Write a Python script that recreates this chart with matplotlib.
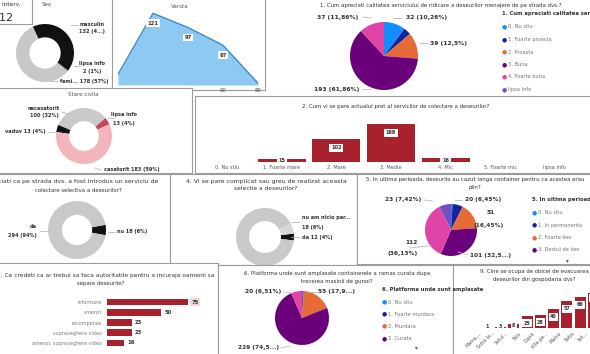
import matplotlib.pyplot as plt
from matplotlib.lines import Line2D
from matplotlib.transforms import ScaledTranslation

# ---- data ----
sex_labels = ['masculin', 'lipsa info', 'feminin']
sex_vals = [132, 2, 178]

varsta_x = [0, 20, 40, 60, 80]
varsta_y = [18, 121, 97, 67, 3]

q1_labels = ['0. Nu stiu', '1. Foarte proasta', '2. Proasta', '3. Buna', '4. Foarte buna', 'lipsa info']
q1_vals = [32, 11, 39, 193, 37, 0]

civil_labels = ['lipsa info', 'necasatorit', 'vaduv', 'casatorit']
civil_vals = [13, 100, 13, 183]

q2_labels = ['0. Nu stiu', '1. Foarte mare', '2. Mare', '3. Medie', '4. Mic', '5. Foarte mic', 'lipsa info']
q2_vals = [2, 15, 102, 168, 16, 2, 1]

q3_labels = ['nu', 'da']
q3_vals = [18, 294]

q4_labels = ['da', 'nu am nicio parere', 'nu']
q4_vals = [12, 18, 282]

q5_labels = ['0. Nu stiu', '1. In permanenta', '2. Foarte des', '3. Destul de des', '4. Rar', '5. Niciodata']
q5_vals = [3, 20, 51, 101, 112, 23]

q6_labels = ['0. Nu stiu', '1. Foarte murdara', '2. Murdara', '3. Curata', '4. Foarte curata']
q6_vals = [1, 2, 55, 229, 20]

q7_labels = ['informare', 'amenzi', 'recompense', 'supraveghere video', 'amenzi, supraveghere video']
q7_vals = [75, 50, 23, 23, 16]

q9_labels = ['Mama,...', 'Sotia la...', 'Sotul...', 'Tata', 'Copiii', 'Alte pe...', 'Mama', 'Sotia', 'Sot...']
q9_vals = [1, 3, 8, 25, 28, 40, 57, 66, 80]

PBI = ['#118DFF', '#12239E', '#E66C37', '#6B007B', '#E044A7', '#744EC2']
RED = '#A8222D'

W, H = 590, 354
fig = plt.figure(figsize=(5.9, 3.54), dpi=100)
fig.patch.set_facecolor('white')


def rect(x, y, w, h):
    return [x / W, 1 - (y + h) / H, w / W, h / H]


def txt(x, y, s, size=4.0, color='#333333', **kw):
    fig.text(x / W, 1 - y / H, s, fontsize=size, color=color, va='center', **kw)


def seg(x0, y0, x1, y1):
    fig.add_artist(Line2D([x0 / W, x1 / W], [1 - y0 / H, 1 - y1 / H], color='#b8b8b8', lw=0.6))


def panel(x, y, w, h):
    ax = fig.add_axes(rect(x, y, w, h))
    ax.set_xticks([])
    ax.set_yticks([])
    ax.set_facecolor('white')
    for s in ax.spines.values():
        s.set_color('#9c9c9c')
        s.set_linewidth(0.8)
    return ax


def pie_at(cx, cy, r, vals, colors, start, ccw=False, width=None):
    ax = fig.add_axes(rect(cx - r, cy - r, 2 * r, 2 * r))
    wp = dict(edgecolor='none')
    if width:
        wp['width'] = width
    ax.pie(vals, colors=colors, startangle=start, counterclock=ccw, wedgeprops=wp)
    ax.set_xlim(-1, 1)
    ax.set_ylim(-1, 1)
    return ax


def legend(x, y, title, labels, colors, step=12.5):
    txt(x - 3, y, title, size=3.8, weight='bold')
    for i, (lab, c) in enumerate(zip(labels, colors)):
        yy = y + 13 + i * step
        txt(x - 3, yy, '\u25CF', size=4.2, color=c)
        txt(x + 3, yy, lab, size=3.7, color='#777777')


# ---- top row ----
panel(-5, -5, 37, 29)
txt(-8, 5, 'Nr. interv.', size=4.2)
txt(-8, 18, '312', size=8)

txt(47, 5, 'Sex', size=4.0, color='#555555', ha='center')
pie_at(45, 53, 29, sex_vals, ['#111111', '#8a8a8a', '#c8c8c8'], 115, width=0.46)
txt(92, 24, 'masculin', size=3.6, ha='center', weight='bold')
txt(92, 32, '132 (4...)', size=3.6, ha='center', weight='bold')
txt(92, 63, 'lipsa info', size=3.6, ha='center', weight='bold')
txt(92, 71, '2 (1%)', size=3.6, ha='center', weight='bold')
txt(60, 81, 'femi... 178 (57%)', size=3.6, weight='bold')
seg(71, 25, 78, 25)
seg(74, 66, 80, 66)
seg(50, 81, 58, 81)

panel(112, -3, 153, 93)
txt(180, 6, 'Varsta', size=4.0, color='#555555', ha='center')
ax = fig.add_axes(rect(118, 5, 140, 80))
ax.fill_between(varsta_x, varsta_y, color='#8EC9F2', lw=0)
ax.plot(varsta_x, varsta_y, color='#3A8AD0', lw=1.0)
ax.set_xlim(0, 80)
ax.set_ylim(0, 135)
ax.set_xticks(varsta_x)
ax.set_yticks([])
ax.tick_params(axis='x', length=0, labelsize=3.8, labelcolor='#555555', pad=2)
for s in ax.spines.values():
    s.set_visible(False)
ax.patch.set_alpha(0)
for xv, yv in zip(varsta_x[1:4], varsta_y[1:4]):
    ax.annotate(str(yv), (xv, yv), xytext=(0, -10), textcoords='offset pixels',
                ha='center', va='center', fontsize=3.8, weight='bold', color='#333333',
                bbox=dict(boxstyle='square,pad=0.25', fc='white', ec='none'))

txt(441, 5, '1. Cum apreciati calitatea serviciului de ridicare a deseurilor menajere de pe strada dvs.?',
    size=3.9, ha='center')
pie_at(384, 56, 34, q1_vals, PBI, 90)
txt(338, 18, '37 (11,86%)', size=4.3, ha='center', weight='bold')
txt(427, 18, '32 (10,26%)', size=4.3, ha='center', weight='bold')
txt(449, 43, '39 (12,5%)', size=4.3, ha='center', weight='bold')
txt(337, 90, '193 (61,86%)', size=4.3, ha='center', weight='bold')
seg(363, 17, 371, 18)
seg(393, 18, 401, 18)
seg(420, 43, 428, 43)
seg(362, 90, 372, 89)
legend(505, 14, '1. Cum apreciati calitatea serviciului', q1_labels, PBI)

# ---- civil status (overlaps age panel) ----
panel(-2, 88, 194, 85)
txt(83, 95, 'Stare civila', size=4.0, color='#555555', ha='center')
pie_at(84, 136, 28, civil_vals, ['#C4485A', '#C9C9C9', '#111111', '#F2B5BC'], 25, ccw=True, width=0.47)
txt(44, 108, 'necasatorit', size=3.6, ha='center', weight='bold')
txt(44, 116, '100 (32%)', size=3.6, ha='center', weight='bold')
txt(25, 132, 'vaduv 13 (4%)', size=3.6, ha='center', weight='bold')
txt(124, 115, 'lipsa info', size=3.6, ha='center', weight='bold')
txt(124, 123, '13 (4%)', size=3.6, ha='center', weight='bold')
txt(132, 170, 'casatorit 183 (59%)', size=3.6, ha='center', weight='bold')
seg(62, 112, 68, 114)
seg(48, 132, 56, 132)
seg(108, 118, 114, 118)
seg(95, 168, 101, 170)

# ---- price bar chart ----
panel(195, 96, 400, 77)
txt(396, 107, '2. Cum vi se pare actualul pret al servicilor de colectare a deseurilor?', size=3.9, ha='center')
ax = fig.add_axes(rect(200, 120, 382, 42))
ax.bar(range(len(q2_vals)), q2_vals, width=0.88, color=RED)
ax.set_xlim(-0.5, len(q2_vals) - 0.5)
ax.set_ylim(0, 185)
ax.set_yticks([])
ax.set_xticks(range(len(q2_labels)))
ax.set_xticklabels(q2_labels)
ax.tick_params(axis='x', length=0, labelsize=3.6, labelcolor='#555555', pad=2)
for s in ax.spines.values():
    s.set_visible(False)
ax.patch.set_alpha(0)
for i, v in enumerate(q2_vals):
    if v < 10:
        continue
    ypos = v - 40 if v > 60 else v / 2
    ax.text(i, ypos, str(v), ha='center', va='center', fontsize=3.6, weight='bold', color='#333333',
            bbox=dict(boxstyle='square,pad=0.35', fc='white', ec='none'))

# ---- middle row ----
panel(-2, 174, 172, 90)
txt(158, 182, '3. Stiati ca pe strada dvs. a fost introdus un serviciu de', size=4.4, ha='right')
txt(78, 190, 'colectare selectiva a deseurilor?', size=3.9, ha='center')
pie_at(77, 230, 29, q3_vals, ['#111111', '#C9C9C9'], 10.4, width=0.48)
txt(37, 227, 'da', size=3.6, ha='right', weight='bold')
txt(37, 236, '294 (94%)', size=3.6, ha='right', weight='bold')
txt(117, 232, 'nu 18 (6%)', size=3.6, weight='bold')
seg(40, 231, 47, 231)
seg(108, 232, 115, 232)

panel(170, 174, 187, 91)
txt(266, 181, '4. Vi se pare complicat sau greu de realizat aceasta', size=4.4, ha='center')
txt(266, 189, 'selectie a deseurilor?', size=4.2, ha='center')
pie_at(265, 237, 29, q4_vals, ['#111111', '#D6D6D6', '#C9C9C9'], -7, ccw=True, width=0.45)
txt(302, 218, 'nu am nicio par...', size=3.6, weight='bold')
txt(302, 227, '18 (6%)', size=3.6, weight='bold')
txt(302, 237, 'da 12 (4%)', size=3.6, weight='bold')
seg(292, 222, 299, 222)
seg(291, 237, 299, 237)

panel(357, 174, 240, 90)
txt(475, 180, '5. In ultima perioada, deseurile au cazut langa container pentru ca acestea erau',
    size=3.9, ha='center')
txt(475, 188, 'plin?', size=3.9, ha='center')
pie_at(451, 230, 26, q5_vals, PBI, 90)
txt(403, 200, '23 (7,42%)', size=4.2, ha='center', weight='bold')
txt(483, 200, '20 (6,45%)', size=4.2, ha='center', weight='bold')
txt(491, 212, '51', size=4.2, ha='center', weight='bold')
txt(489, 225, '(16,45%)', size=4.2, ha='center', weight='bold')
txt(418, 242, '112', size=4.2, ha='right', weight='bold')
txt(418, 254, '(36,13%)', size=4.2, ha='right', weight='bold')
txt(470, 255, '101 (32,5...)', size=4.2, weight='bold')
seg(424, 200, 432, 201)
seg(455, 200, 462, 200)
seg(410, 248, 428, 246)
seg(458, 252, 468, 255)
legend(535, 200, '5. In ultima perioada, deseurile', q5_labels[:4], PBI[:4], step=12.3)
txt(567, 261, '\u25BE', size=4.0, color='#555555', ha='center')

# ---- bottom row ----
panel(-2, 263, 220, 95)
txt(215, 275, '7. Ce credeti ca ar trebui sa faca autoritatile pentru a incuraja oamenii sa',
    size=4.2, ha='right')
txt(101, 283, 'separe deseurile?', size=3.9, ha='center')
ax = fig.add_axes(rect(107, 297, 81, 51))
ax.barh(range(len(q7_vals)), q7_vals, height=0.65, color=RED)
ax.set_xlim(0, 75)
ax.set_ylim(len(q7_vals) - 0.5, -0.5)
ax.set_xticks([])
ax.set_yticks(range(len(q7_labels)))
ax.set_yticklabels(q7_labels)
ax.tick_params(axis='y', length=0, labelsize=3.5, labelcolor='#7a7a7a', pad=4)
for s in ax.spines.values():
    s.set_visible(False)
ax.patch.set_alpha(0)
for i, v in enumerate(q7_vals):
    box = dict(boxstyle='square,pad=0.3', fc='#F5D5D8', ec='none') if i == 0 else None
    ax.text(v + 3, i, str(v), ha='left', va='center', fontsize=3.8, weight='bold',
            color='#333333', bbox=box, clip_on=False)

panel(218, 265, 235, 95)
txt(337, 273, '6. Platforma unde sunt amplasate containerele a ramas curata dupa', size=3.9, ha='center')
txt(337, 281, 'trecerea masinii de gunoi?', size=3.9, ha='center')
pie_at(302, 318, 27, q6_vals, PBI[:5], 90)
txt(263, 292, '20 (6,51%)', size=4.2, ha='center', weight='bold')
txt(337, 292, '55 (17,9...)', size=4.2, ha='center', weight='bold')
txt(259, 348, '229 (74,5...)', size=4.2, ha='center', weight='bold')
seg(284, 292, 292, 293)
seg(309, 292, 317, 292)
seg(281, 348, 290, 346)
legend(385, 289, '6. Platforma unde sunt amplasate', q6_labels[:4], PBI[:4], step=12.2)
txt(416, 348, '\u25BE', size=4.0, color='#555555', ha='center')

panel(453, 265, 140, 95)
txt(534, 271, '9. Cine se ocupa de obicei de evacuarea', size=3.9, ha='center')
txt(534, 279, 'deseurilor din gospodaria dvs?', size=3.9, ha='center')
ax = fig.add_axes(rect(480.5, 293, 13.3 * len(q9_vals), 35))
ax.bar(range(len(q9_vals)), q9_vals, width=0.82, color=RED)
ax.set_xlim(-0.5, len(q9_vals) - 0.5)
ax.set_ylim(0, 75)
ax.set_yticks([])
ax.set_xticks(range(len(q9_labels)))
ax.set_xticklabels(q9_labels, rotation=45, ha='right', rotation_mode='anchor')
ax.tick_params(axis='x', length=0, labelsize=3.4, labelcolor='#555555', pad=2)
shift = ScaledTranslation(-0.08, 0, fig.dpi_scale_trans)
for lab in ax.get_xticklabels():
    lab.set_transform(lab.get_transform() + shift)
for s in ax.spines.values():
    s.set_visible(False)
ax.patch.set_alpha(0)
for i, v in enumerate(q9_vals):
    ax.text(i, max(v - 16, 0.3 * v + 2.5), str(v), ha='center', va='center', fontsize=3.5,
            weight='bold', color='#333333',
            bbox=dict(boxstyle='square,pad=0.3', fc='white', ec='none'))

fig.savefig('out.png', dpi=100, facecolor='white')
